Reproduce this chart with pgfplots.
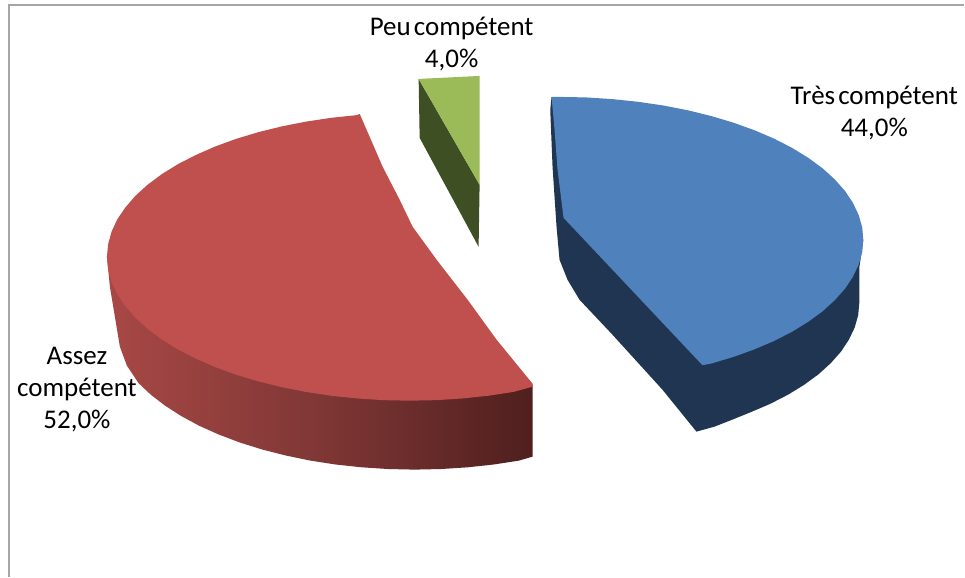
\documentclass[border=0pt]{standalone}
\usepackage{pgfplots}
\pgfplotsset{compat=1.18}
\usepackage{fontspec}
\setmainfont{Carlito}[WordSpace=0.5]
\definecolor{bluetop}{HTML}{4F81BD}
\definecolor{blueside}{HTML}{1F3551}
\definecolor{redtop}{HTML}{C0504D}
\definecolor{redsideL}{HTML}{A84845}
\definecolor{redsideM}{HTML}{7F3735}
\definecolor{redsideR}{HTML}{4F1F1E}
\definecolor{greentop}{HTML}{9BBB59}
\definecolor{greenside}{HTML}{3F4F24}
\definecolor{frameg}{HTML}{A6A6A6}
\begin{document}
\begin{tikzpicture}
\begin{axis}[
  hide axis, scale only axis, width=965pt, height=577pt,
  xmin=0, xmax=965, ymin=0, ymax=577, y dir=reverse, clip=false]
\addplot[fill=white, draw=none] coordinates {(0,0)(965,0)(965,577)(0,577)} --cycle;
\addplot[frameg, line width=1.6pt] coordinates {(9,577)(9,5)(965,5)};
% blue slice
\addplot[fill=blueside, draw=none] coordinates {(552,97)(550.7,110)(553,167)(557,227)(560,260)(568,280)(580,300)(613,335)(663,390)(697,432)(715,427)(730.4,421)(751.4,412.5)(771,404.1)(788.9,394.9)(805,385)(819.3,374.5)(831.5,363.4)(841.7,351.9)(849.6,340)(855.4,327.8)(858.9,315.5)(860,303)(860,268)(864,240)} --cycle;
\addplot[fill=bluetop, draw=none] coordinates {(552,97)(560,97)(586.5,97.5)(612.8,99.2)(638.7,101.9)(664,105.6)(688.5,110.4)(712,116.2)(734.4,122.9)(755.4,130.5)(775,138.9)(792.9,148.1)(809,158)(823.3,168.5)(835.5,179.6)(845.7,191.1)(853.6,203)(859.4,215.2)(862.9,227.5)(864,240)(862.9,252.5)(859.4,264.8)(853.6,277)(845.7,288.9)(835.5,300.4)(823.3,311.5)(809,322)(792.9,331.9)(775,341.1)(755.4,349.5)(734.4,357.1)(712,363.8)(703,365.5)(564,218)(558,170)(555,130)} --cycle;
% red slice
\addplot[shade, draw=none, left color=redsideL, right color=redsideR, middle color=redsideM] coordinates {(107,257)(110,287)(115,317)(120,347)(127,366)(138.6,383.4)(150.9,395)(165.2,406)(181.4,416.4)(199.3,426.1)(219,434.9)(240.1,442.9)(262.5,449.9)(286.1,455.9)(310.7,461)(336,464.9)(362,467.7)(388.4,469.4)(415,470)(441.6,469.4)(468,467.7)(494,464.9)(519.3,461)(533,457)(533,385)(300,300)} --cycle;
\addplot[fill=redtop, draw=none] coordinates {(360,114)(357.4,115.2)(331.6,117.9)(306.4,121.7)(282,126.5)(258.5,132.3)(236.2,139)(215.2,146.7)(195.8,155.2)(177.9,164.4)(161.8,174.4)(147.6,185)(135.4,196.1)(125.3,207.8)(117.3,219.7)(111.6,232)(108.2,244.4)(107,257)(108.2,269.6)(111.6,282)(117.3,294.3)(125.3,306.2)(135.4,317.9)(147.6,329)(161.8,339.6)(177.9,349.6)(195.8,358.8)(215.2,367.3)(236.2,375)(258.5,381.7)(282,387.5)(306.4,392.3)(331.6,396.1)(357.4,398.8)(383.6,400.5)(410,401)(436.4,400.5)(462.6,398.8)(488.4,396.1)(513.6,392.3)(533,387)(533,384)(497,340)(468,300)(437,260)(413,227)(400,200)(383,167)} --cycle;
% green slice
\addplot[fill=greenside, draw=none] coordinates {(419,79)(420,138)(479,247)(480,185)} --cycle;
\addplot[fill=greentop, draw=none] coordinates {(419,79)(480,76)(480,185)} --cycle;
% labels
\node[align=center, font=\fontsize{27}{32}\selectfont] at (axis cs:452,44) {Peu compétent\\4,0\%};
\node[align=center, font=\fontsize{27}{32}\selectfont] at (axis cs:875,113) {Très compétent\\44,0\%};
\node[align=center, font=\fontsize{27}{32}\selectfont] at (axis cs:77,390) {Assez\\compétent\\52,0\%};
\end{axis}
\end{tikzpicture}
\end{document}
